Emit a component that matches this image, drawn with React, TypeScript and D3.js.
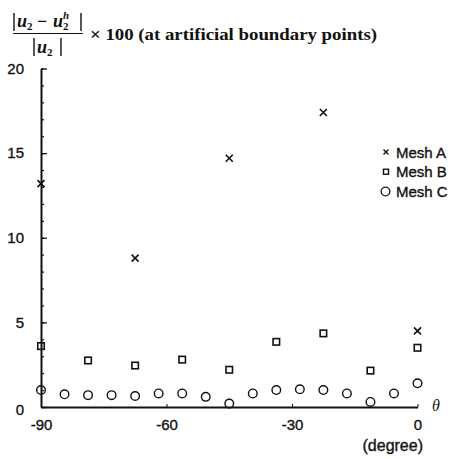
import React, { useEffect, useRef } from 'react';
import * as d3 from 'd3';

// Mesh A (crosses)
const meshAAngles = [-90, -67.5, -45, -22.5, 0];
const meshAValues = [13.2, 8.8, 14.7, 17.4, 4.5];
// Mesh B (squares)
const meshBAngles = [-90, -78.75, -67.5, -56.25, -45, -33.75, -22.5, -11.25, 0];
const meshBValues = [3.6, 2.75, 2.45, 2.8, 2.2, 3.85, 4.35, 2.15, 3.5];
// Mesh C (circles)
const meshCAngles = [-90, -84.375, -78.75, -73.125, -67.5, -61.875, -56.25, -50.625, -45,
  -39.375, -33.75, -28.125, -22.5, -16.875, -11.25, -5.625, 0];
const meshCValues = [1.0, 0.75, 0.7, 0.7, 0.65, 0.8, 0.8, 0.6, 0.2, 0.8, 1.0, 1.05, 1.0, 0.8, 0.3, 0.8, 1.4];

const xTicks = [-90, -60, -30, 0];
const yMajorTicks = [0, 5, 10, 15, 20];
const legendLabels = ['Mesh A', 'Mesh B', 'Mesh C'];

const W = 456, H = 459;
const INK = '#111';
const SANS = 'Liberation Sans, Arial, sans-serif';
const SERIF = 'Liberation Serif, Times New Roman, serif';

// scanned print looks a little heavier than the plain regular face
function inkText(sel: any, size: string) {
  sel.attr('fill', INK)
    .attr('stroke', INK)
    .attr('stroke-width', 0.35)
    .style('font-family', SANS)
    .style('font-size', size);
}

export default function App() {
  const ref = useRef<SVGGElement | null>(null);

  useEffect(() => {
    const svg = d3.select(ref.current);
    svg.selectAll('*').remove();

    const x = d3.scaleLinear().domain([-90, 0]).range([41, 417.5]);
    const y = d3.scaleLinear().domain([0, 20]).range([407, 68.5]);

    // y axis: minor ticks every unit, longer ones with labels every 5
    svg.append('g')
      .attr('transform', `translate(${x(-90)},0)`)
      .call(d3.axisLeft(y).tickValues(d3.range(0, 21)).tickSizeInner(-3).tickSizeOuter(0).tickFormat(() => ''))
      .call(g => g.select('.domain').remove())
      .selectAll('line').attr('stroke', INK).attr('stroke-width', 1.2);

    const yAxis = svg.append('g')
      .attr('transform', `translate(${x(-90)},0)`)
      .call(d3.axisLeft(y).tickValues(yMajorTicks).tickSizeInner(-6).tickSizeOuter(0)
        .tickPadding(17).tickFormat(d => String(d)));
    yAxis.select('.domain').attr('stroke', INK).attr('stroke-width', 2);
    yAxis.selectAll('line').attr('stroke', INK).attr('stroke-width', 1.3);
    inkText(yAxis.selectAll('text'), '15px');
    yAxis.selectAll('text').filter((d: any) => d === 0).attr('dy', '0.5em');

    // x axis
    const xAxis = svg.append('g')
      .attr('transform', `translate(0,${y(0)})`)
      .call(d3.axisBottom(x).tickValues(xTicks).tickSizeInner(-3).tickSizeOuter(0)
        .tickPadding(12).tickFormat(d => String(d)));
    xAxis.select('.domain').attr('stroke', INK).attr('stroke-width', 2);
    xAxis.selectAll('line').attr('stroke', INK).attr('stroke-width', 1);
    inkText(xAxis.selectAll('text'), '15px');

    const plot = svg.append('g');

    // Mesh C circles
    plot.selectAll('.c')
      .data(d3.zip(meshCAngles, meshCValues))
      .enter().append('circle')
      .attr('cx', d => x(d[0]))
      .attr('cy', d => y(d[1]))
      .attr('r', 4.3)
      .attr('fill', 'none')
      .attr('stroke', INK)
      .attr('stroke-width', 1.4);

    // Mesh B squares
    const s = 6.5;
    plot.selectAll('.b')
      .data(d3.zip(meshBAngles, meshBValues))
      .enter().append('rect')
      .attr('x', d => x(d[0]) - s / 2)
      .attr('y', d => y(d[1]) - s / 2)
      .attr('width', s)
      .attr('height', s)
      .attr('fill', 'none')
      .attr('stroke', INK)
      .attr('stroke-width', 1.6);

    // Mesh A crosses
    const c = 3.5;
    plot.selectAll('.a')
      .data(d3.zip(meshAAngles, meshAValues))
      .enter().append('path')
      .attr('d', d => {
        const px = x(d[0]), py = y(d[1]);
        return `M${px - c},${py - c}L${px + c},${py + c}M${px - c},${py + c}L${px + c},${py - c}`;
      })
      .attr('stroke', INK)
      .attr('stroke-width', 1.6);

    // legend
    const legend = svg.append('g').attr('transform', 'translate(386,152)');
    const ly = d3.scalePoint().domain(legendLabels).range([0, 39.5]);
    legend.append('path')
      .attr('d', `M-2.5,${ly('Mesh A')! - 2.5}l5,5M-2.5,${ly('Mesh A')! + 2.5}l5,-5`)
      .attr('stroke', INK).attr('stroke-width', 1.4);
    legend.append('rect')
      .attr('x', -2.5).attr('y', ly('Mesh B')! - 2.5).attr('width', 5).attr('height', 5)
      .attr('fill', 'none').attr('stroke', INK).attr('stroke-width', 1.4);
    legend.append('circle')
      .attr('cx', -0.5).attr('cy', ly('Mesh C')!).attr('r', 4.3)
      .attr('fill', 'none').attr('stroke', INK).attr('stroke-width', 1.3);
    const lt = legend.selectAll('text')
      .data(legendLabels)
      .enter().append('text')
      .attr('x', 10)
      .attr('y', d => ly(d)! + 5.5)
      .text(d => d);
    inkText(lt, '15px');

    // axis captions
    svg.append('text')
      .attr('x', 432).attr('y', 411)
      .text('θ')
      .attr('fill', INK)
      .style('font-family', SERIF)
      .style('font-style', 'italic')
      .style('font-size', '16px');
    const deg = svg.append('text')
      .attr('x', 423).attr('y', 451)
      .attr('text-anchor', 'end')
      .text('(degree)');
    inkText(deg, '16px');
  }, []);

  return (
    <svg width={W} height={H}
      style={{ position: 'absolute', left: 0, top: 0, background: '#fff' }}>
      <g fontFamily={SERIF} fontWeight="bold" fill={INK} stroke={INK} strokeWidth={1.4}>
        {/* numerator |u2 - u2^h| : bars drawn as strokes */}
        <line x1={14} x2={14} y1={13} y2={31} />
        <line x1={81} x2={81} y1={13} y2={31} />
        <text y={27} fontSize={18} stroke="none">
          <tspan x={17} fontStyle="italic">u</tspan>
          <tspan x={27} y={30} fontSize={11}>2</tspan>
          <tspan x={37} y={27}>−</tspan>
          <tspan x={53} fontStyle="italic">u</tspan>
          <tspan x={63} y={19} fontSize={11} fontStyle="italic">h</tspan>
          <tspan x={63} y={30} fontSize={11}>2</tspan>
        </text>
        <line x1={13} x2={83} y1={33.5} y2={33.5} strokeWidth={1.2} />
        {/* denominator |u2| */}
        <line x1={34} x2={34} y1={38} y2={56} />
        <line x1={61} x2={61} y1={38} y2={56} />
        <text y={53} fontSize={18} stroke="none">
          <tspan x={37} fontStyle="italic">u</tspan>
          <tspan x={47} y={56} fontSize={11}>2</tspan>
        </text>
        <text x={90} y={40} fontSize={17.5} stroke="none" textLength={287} lengthAdjust="spacingAndGlyphs">
          × 100 (at artificial boundary points)
        </text>
      </g>
      <g ref={ref} />
    </svg>
  );
}
